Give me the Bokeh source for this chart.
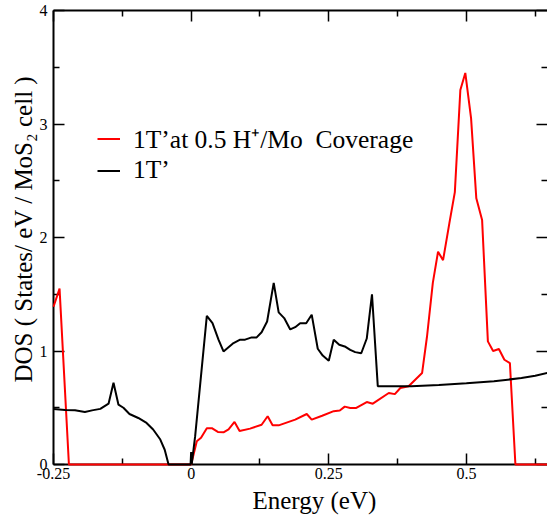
from bokeh.plotting import figure
from bokeh.models import (Range1d, LinearAxis, FixedTicker, Title, Legend, LegendItem)
from bokeh.embed import file_html
from bokeh.resources import INLINE

# ---- data ----
energy_1t = [-0.25, -0.229, -0.211, -0.193, -0.18, -0.165, -0.15, -0.141, -0.132, -0.123,
             -0.112, -0.096, -0.081, -0.069, -0.056, -0.048, -0.041, -0.001, 0.0, 0.001,
             0.0073, 0.0285, 0.0388, 0.0497, 0.0588, 0.077, 0.089, 0.098, 0.110, 0.119,
             0.128, 0.138, 0.150, 0.159, 0.169, 0.18, 0.189, 0.198, 0.209, 0.219,
             0.230, 0.239, 0.250, 0.259, 0.269, 0.279, 0.289, 0.298, 0.309, 0.319,
             0.3285, 0.339, 0.40, 0.45, 0.50, 0.55, 0.60, 0.625, 0.65]
dos_1t = [0.49, 0.48, 0.477, 0.463, 0.477, 0.49, 0.536, 0.72, 0.527, 0.50,
          0.445, 0.41, 0.366, 0.308, 0.22, 0.13, 0.0, 0.0, 0.11, 0.0,
          0.25, 1.31, 1.245, 1.10, 0.996, 1.07, 1.10, 1.10, 1.12, 1.12,
          1.165, 1.26, 1.60, 1.34, 1.29, 1.19, 1.21, 1.245, 1.245, 1.32,
          1.02, 0.96, 0.915, 1.10, 1.055, 1.04, 1.01, 0.99, 0.98, 1.11,
          1.50, 0.69, 0.69, 0.70, 0.715, 0.733, 0.762, 0.782, 0.81]

energy_h = [-0.25, -0.239, -0.222, 0.0, 0.0103, 0.018, 0.0285, 0.0376, 0.0485, 0.0588,
            0.068, 0.0788, 0.088, 0.107, 0.128, 0.139, 0.148, 0.159, 0.189, 0.21,
            0.219, 0.238, 0.259, 0.27, 0.279, 0.289, 0.30, 0.319, 0.33, 0.359,
            0.37, 0.38, 0.395, 0.4195, 0.4285, 0.439, 0.4485, 0.4576, 0.469, 0.479,
            0.489, 0.498, 0.5085, 0.518, 0.5285, 0.539, 0.5485, 0.559, 0.569, 0.579,
            0.589, 0.70]
dos_h = [1.39, 1.55, 0.0, 0.0, 0.205, 0.235, 0.32, 0.32, 0.287, 0.284,
         0.31, 0.375, 0.296, 0.316, 0.35, 0.425, 0.345, 0.345, 0.395, 0.445,
         0.395, 0.43, 0.47, 0.475, 0.51, 0.498, 0.498, 0.55, 0.536, 0.63,
         0.62, 0.674, 0.69, 0.806, 1.13, 1.60, 1.875, 1.80, 2.125, 2.40,
         3.30, 3.45, 3.05, 2.345, 2.155, 1.085, 1.00, 1.017, 0.923, 0.894,
         0.0, 0.0]

x_major = [-0.25, 0.0, 0.25, 0.5]
x_labels = ["-0.25", "0", "0.25", "0.5"]
x_minor = [-0.125, 0.125, 0.375, 0.625]
y_major = [0, 1, 2, 3, 4]
y_minor = [0.5, 1.5, 2.5, 3.5]

label_h = "1T\u2019at 0.5 H\u207a/Mo  Coverage"
label_1t = "1T\u2019"
x_title = "Energy (eV)"
y_title = "DOS ( States/ eV / MoS\u2082 cell )"

FONT = "Liberation Serif"

p = figure(width=547, height=516, output_backend="svg", toolbar_location=None,
           x_axis_location=None, y_axis_location=None,
           x_range=Range1d(-0.25, 0.6473), y_range=Range1d(0, 4),
           min_border_left=53, min_border_right=0, min_border_top=10, min_border_bottom=51)
p.outline_line_color = None
p.xgrid.visible = False
p.ygrid.visible = False
p.background_fill_color = "white"
p.border_fill_color = "white"

xt = FixedTicker(ticks=x_major, minor_ticks=x_minor)
yt = FixedTicker(ticks=y_major, minor_ticks=y_minor)


def style(ax, show_labels, ticks):
    ax.major_tick_in = 11
    ax.major_tick_out = 0
    ax.minor_tick_in = 6
    ax.minor_tick_out = 0
    ax.major_tick_line_width = 1.5
    ax.minor_tick_line_width = 1.5
    ax.axis_line_width = 2
    ax.major_label_text_font = FONT
    ax.major_label_text_color = "black"
    if show_labels:
        ax.major_label_text_font_size = "16px"
    else:
        # mirrored ticks only: blank tick labels
        ax.major_label_overrides = {t: "" for t in ticks}
        ax.major_label_text_font_size = "1px"
        ax.major_label_standoff = 0


bx = LinearAxis(ticker=xt, major_label_overrides=dict(zip(x_major, x_labels)))
style(bx, True, x_major)
bx.major_label_standoff = 3
p.add_layout(bx, "below")

tx = LinearAxis(ticker=xt)
style(tx, False, x_major)
p.add_layout(tx, "above")

ly = LinearAxis(ticker=yt)
style(ly, True, y_major)
ly.major_label_standoff = 6
p.add_layout(ly, "left")

ry = LinearAxis(ticker=yt)
style(ry, False, y_major)
ry.axis_line_color = None
p.add_layout(ry, "right")

r_h = p.line(energy_h, dos_h, line_color="#ff0000", line_width=2, level="overlay")
r_1t = p.line(energy_1t, dos_1t, line_color="black", line_width=2, level="overlay")

legend = Legend(items=[LegendItem(label=label_h, renderers=[r_h]),
                       LegendItem(label=label_1t, renderers=[r_1t])],
                location=(44, 279), border_line_color=None, background_fill_alpha=0,
                padding=0, margin=0, spacing=0, glyph_width=23, glyph_height=29,
                label_height=29, label_standoff=13, label_text_font=FONT,
                label_text_font_size="25.5px", label_text_color="black")
p.add_layout(legend, "center")

p.add_layout(Title(text=x_title, align="left", offset=199, text_font=FONT,
                   text_font_size="25px", text_font_style="normal",
                   text_color="black", standoff=6), "below")
p.add_layout(Title(text=y_title, align="left", offset=82, text_font=FONT,
                   text_font_size="25px", text_font_style="normal",
                   text_color="black", standoff=0), "left")

open("out.html", "w").write(file_html(p, INLINE))
